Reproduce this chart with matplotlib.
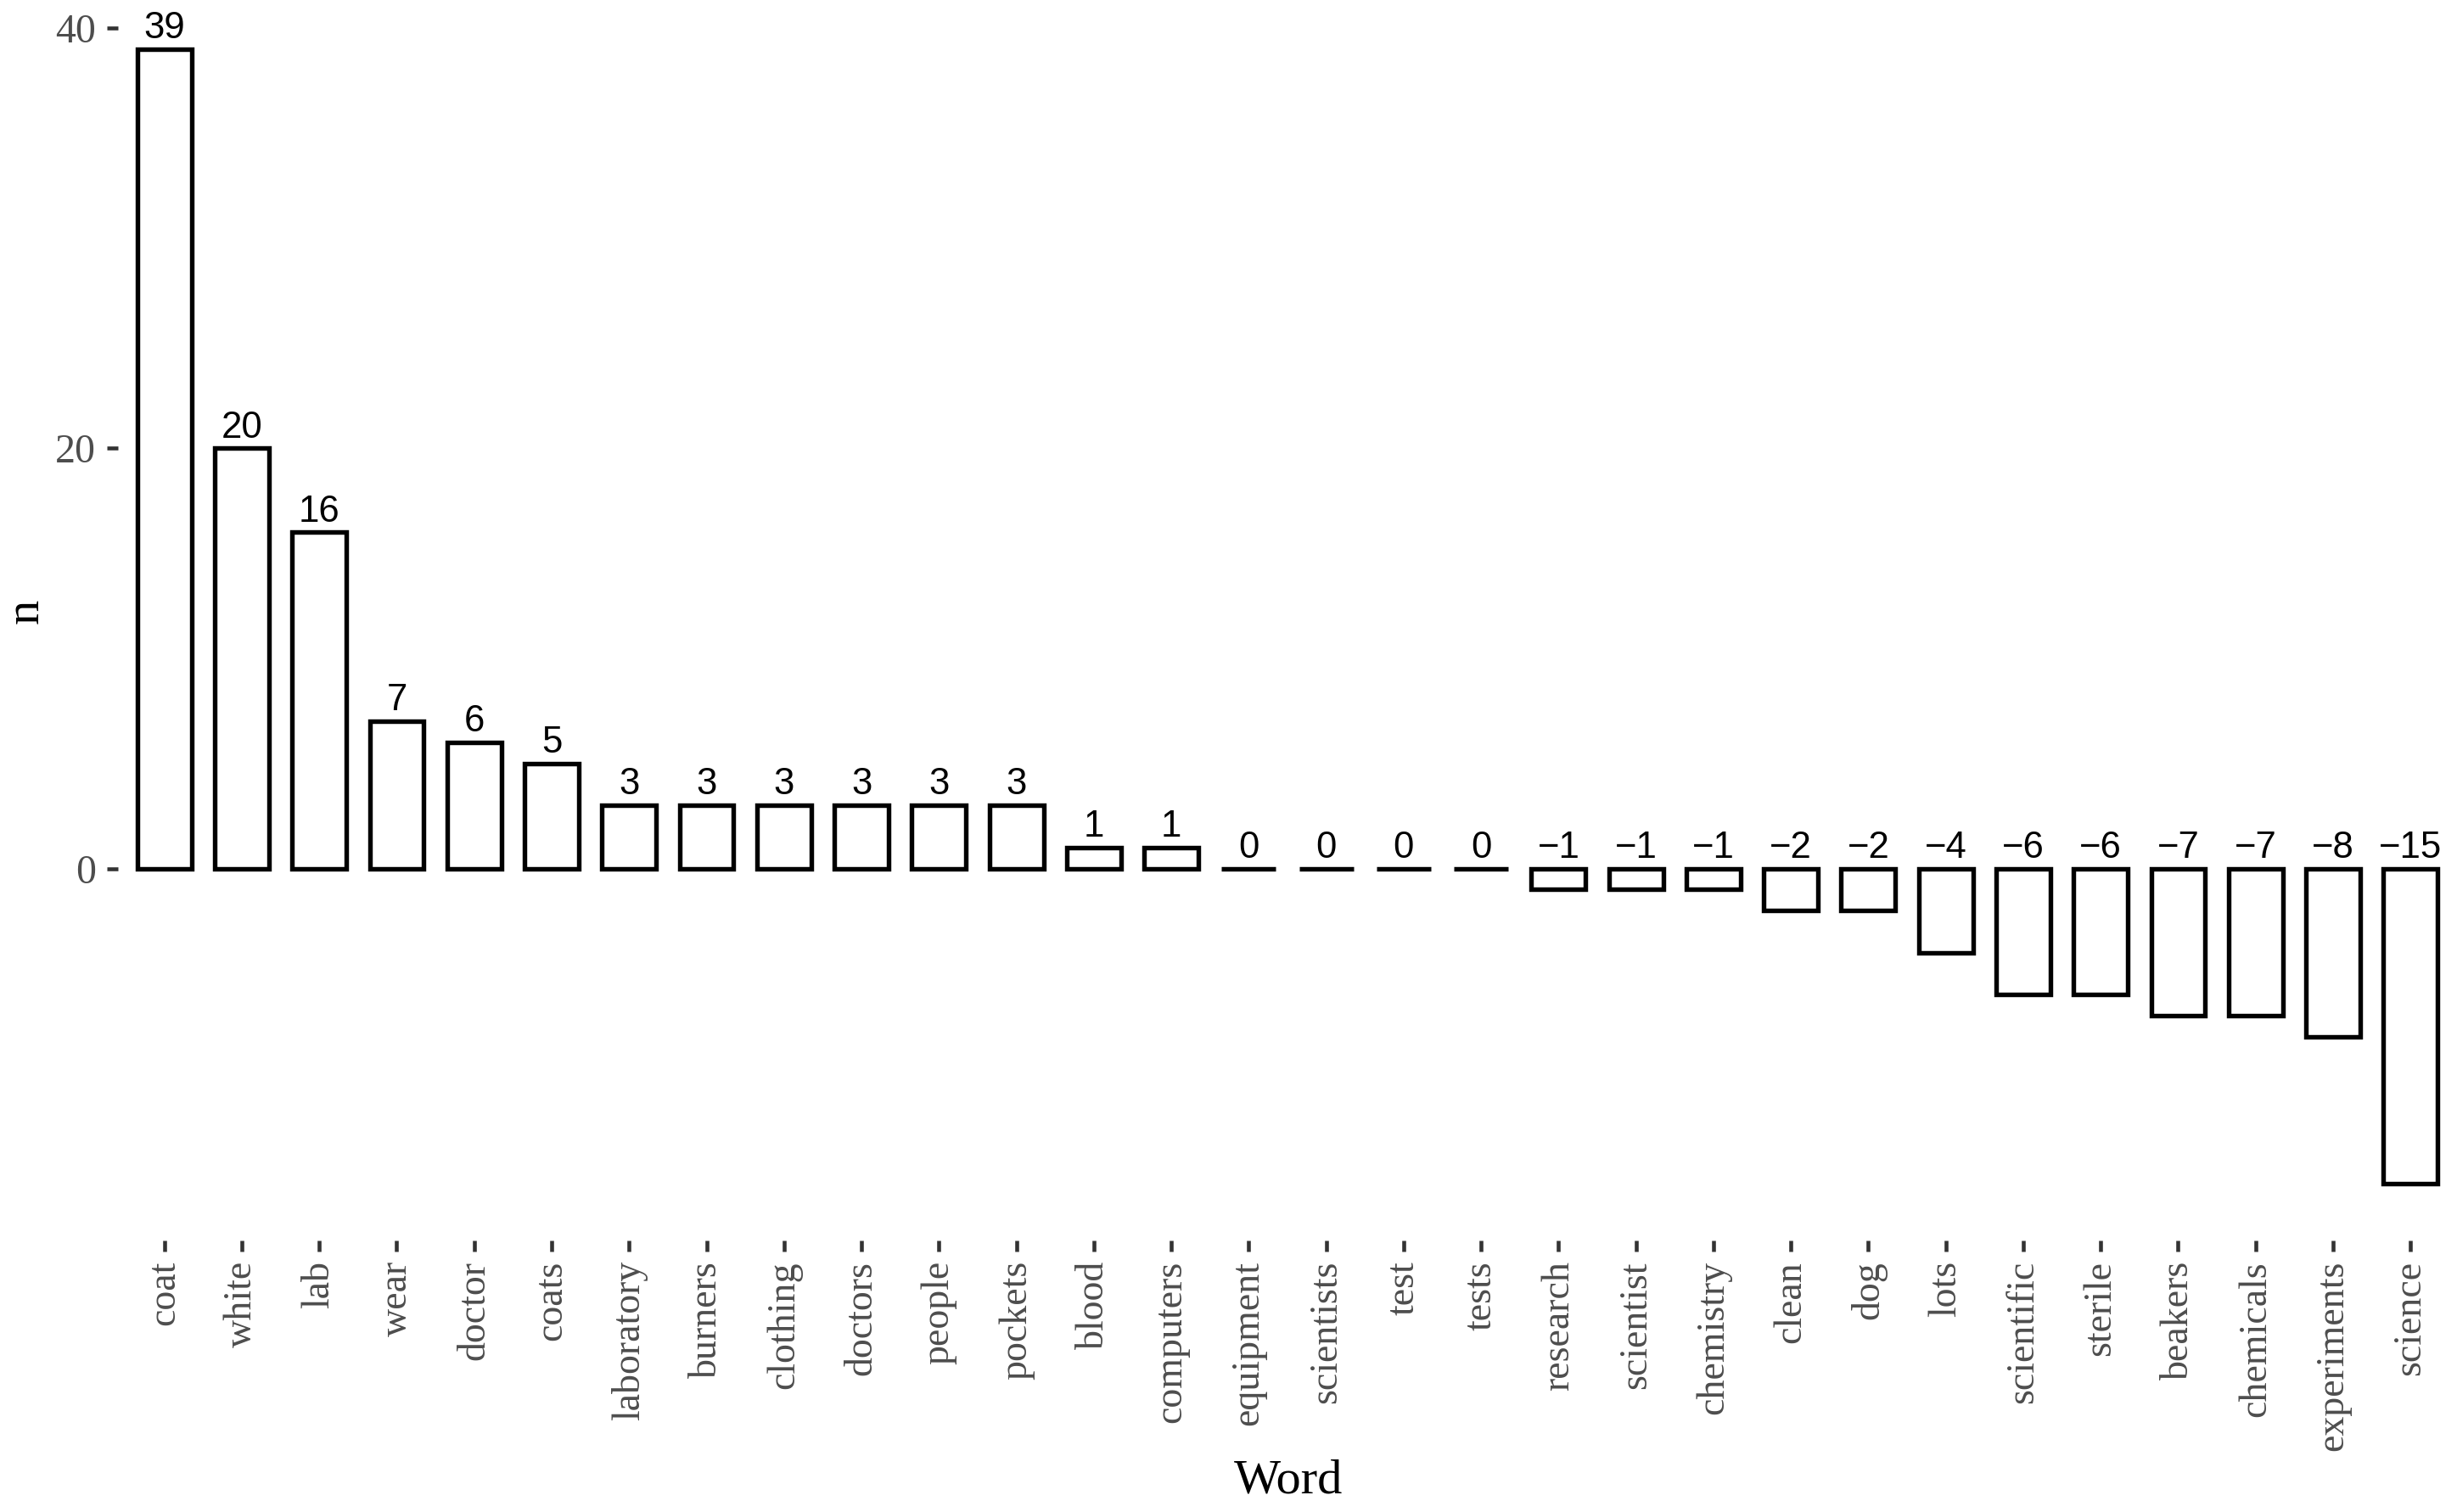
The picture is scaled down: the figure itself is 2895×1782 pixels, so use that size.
import matplotlib.pyplot as plt

# Word counts (difference)
words = ['coat', 'white', 'lab', 'wear', 'doctor', 'coats', 'laboratory', 'burners',
         'clothing', 'doctors', 'people', 'pockets', 'blood', 'computers', 'equipment',
         'scientists', 'test', 'tests', 'research', 'scientist', 'chemistry', 'clean',
         'dog', 'lots', 'scientific', 'sterile', 'beakers', 'chemicals', 'experiments',
         'science']
n_values = [39, 20, 16, 7, 6, 5, 3, 3, 3, 3, 3, 3, 1, 1, 0, 0, 0, 0,
            -1, -1, -1, -2, -2, -4, -6, -6, -7, -7, -8, -15]
y_ticks = [0, 20, 40]

fig = plt.figure(figsize=(9.65, 5.94), dpi=300)
ax = fig.add_axes([0.048, 0.1796, 0.952, 0.8254])

x = list(range(len(words)))
ax.bar(x, n_values, width=0.7, color='white', edgecolor='black', linewidth=1.3)

# labels above the bar (or above zero for negative bars)
for xi, v in zip(x, n_values):
    ax.annotate(str(v).replace('-', '\u2212'), (xi, max(v, 0)),
                xytext=(0, 3.1), textcoords='offset points',
                ha='center', va='baseline', fontsize=10.5,
                family='Liberation Sans', color='black')

ax.set_xlim(-0.6, len(words) - 0.4)
ax.set_ylim(-17.7, 41.7)
ax.set_xticks(x)
ax.set_xticklabels(words, rotation=90, family='Liberation Serif', fontsize=11, color='#4D4D4D')
ax.set_yticks(y_ticks)
ax.set_yticklabels([str(t) for t in y_ticks], family='Liberation Serif', fontsize=11.5, color='#4D4D4D')
ax.tick_params(axis='both', length=3.2, width=1.1, color='#333333')
ax.tick_params(axis='x', pad=2.6)
ax.tick_params(axis='y', pad=3)

for s in ax.spines.values():
    s.set_visible(False)

fig.text(822 / 1568, 1 - 1745 / 1782, 'Word', ha='center', va='center',
         family='Liberation Serif', fontsize=14)
fig.text(31 / 2895, 1 - 720 / 1782, 'n', ha='center', va='center', rotation=90,
         family='Liberation Serif', fontsize=14)

fig.savefig('out.png', dpi=300)
